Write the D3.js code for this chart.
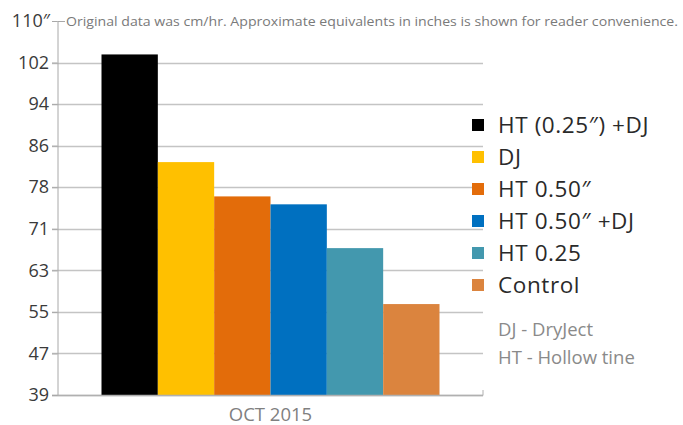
<!DOCTYPE html>
<html>
<head>
<meta charset="utf-8">
<script src="https://cdn.jsdelivr.net/npm/d3@7"></script>
<style>
  html, body { margin: 0; padding: 0; background: #fff; }
  svg { display: block; }
  text { font-family: "Open Sans", "Noto Sans", sans-serif; }
</style>
</head>
<body>
<svg id="chart" width="683" height="425"></svg>
<script>
// ---- Data ----
const categories = ["OCT 2015"];
const seriesNames = ["HT (0.25\u2033) +DJ", "DJ", "HT 0.50\u2033", "HT 0.50\u2033 +DJ", "HT 0.25", "Control"];
const seriesValues = [103.9, 83.5, 77.0, 75.5, 67.2, 56.6]; // inches/hr
const seriesColors = ["#000000", "#FFC000", "#E36C0A", "#0070C0", "#4398AE", "#DB843E"];
const yTicksCm = [100, 120, 140, 160, 180, 200, 220, 240, 260, 280];
const yTickLabels = ["39", "47", "55", "63", "71", "78", "86", "94", "102", "110\u2033"];
const noteText = "Original data was cm/hr. Approximate equivalents in inches is shown for reader convenience.";
const abbrevs = ["DJ - DryJect", "HT - Hollow tine"];

// ---- Layout ----
const svg = d3.select("#chart");
const yTicks = yTicksCm.map(c => c / 2.54);
const y = d3.scaleLinear().domain([yTicks[0], yTicks[yTicks.length - 1]]).range([395, 21]);
const xGroup = d3.scaleBand().domain(categories).range([101.5, 439.5]).padding(0);
const xSeries = d3.scaleBand().domain(seriesNames).range([0, xGroup.bandwidth()]).padding(0);

const gridLeft = 52, axisX = 57.5, gridRight = 483;

// gridlines (all but top)
svg.append("g").selectAll("line")
  .data(yTicks.slice(0, -1))
  .join("line")
  .attr("x1", gridLeft).attr("x2", gridRight)
  .attr("y1", d => Math.round(y(d)) + 0.5).attr("y2", d => Math.round(y(d)) + 0.5)
  .attr("stroke", "#c4c4c4").attr("stroke-width", 1.3);

// bars
categories.forEach(cat => {
  svg.append("g").selectAll("rect")
    .data(seriesNames.map((s, i) => ({ s, v: seriesValues[i], c: seriesColors[i] })))
    .join("rect")
    .attr("x", d => xGroup(cat) + xSeries(d.s))
    .attr("width", xSeries.bandwidth())
    .attr("y", d => y(d.v))
    .attr("height", d => y(yTicks[0]) - y(d.v))
    .attr("fill", d => d.c);
});

// baseline
svg.append("line")
  .attr("x1", gridLeft).attr("x2", gridRight)
  .attr("y1", Math.round(y(yTicks[0])) + 0.5).attr("y2", Math.round(y(yTicks[0])) + 0.5)
  .attr("stroke", "#b0b0b0").attr("stroke-width", 1.3);
svg.append("line")
  .attr("x1", gridRight).attr("x2", gridRight)
  .attr("y1", y(yTicks[0]) - 5).attr("y2", y(yTicks[0]) + 0.5)
  .attr("stroke", "#b0b0b0");

// y axis
const yAxis = d3.axisLeft(y)
  .tickValues(yTicks)
  .tickSize(axisX - gridLeft)
  .tickPadding(3)
  .tickFormat((d, i) => yTickLabels[i]);
const gAxis = svg.append("g").attr("transform", `translate(${axisX},0)`).call(yAxis);
gAxis.select(".domain").attr("stroke", "#a8a8a8").attr("d", `M0.5,${y(yTicks[yTicks.length-1])}V${y(yTicks[0])}`);
gAxis.selectAll(".tick line").attr("stroke", "#a8a8a8");
gAxis.selectAll(".tick text")
  .attr("font-size", 18)
  .attr("fill", "#3a3a3a")
  .style("font-family", "'Open Sans', sans-serif");
gAxis.selectAll(".tick").filter((d, i) => i === yTicks.length - 1).select("text").attr("x", -7.5);
// short dash leading into the note
svg.append("line")
  .attr("x1", axisX).attr("x2", 65)
  .attr("y1", Math.round(y(yTicks[yTicks.length - 1])) + 0.5).attr("y2", Math.round(y(yTicks[yTicks.length - 1])) + 0.5)
  .attr("stroke", "#a8a8a8");

// note text
svg.append("text")
  .attr("x", 66).attr("y", y(yTicks[yTicks.length - 1]) + 5)
  .attr("font-size", 13.5)
  .attr("fill", "#7a7a7a")
  .attr("textLength", 612)
  .attr("lengthAdjust", "spacingAndGlyphs")
  .text(noteText);

// x label
svg.append("g").selectAll("text")
  .data(categories)
  .join("text")
  .attr("x", d => xGroup(d) + xGroup.bandwidth() / 2)
  .attr("y", 421)
  .attr("text-anchor", "middle")
  .attr("font-size", 18.5)
  .attr("fill", "#808080")
  .text(d => d);

// legend
const legend = svg.append("g").attr("transform", "translate(472,125)");
const items = legend.selectAll("g")
  .data(seriesNames.map((s, i) => ({ s, c: seriesColors[i] })))
  .join("g")
  .attr("transform", (d, i) => `translate(0,${i * 32})`);
items.append("rect").attr("x", 0).attr("y", -6).attr("width", 12).attr("height", 12).attr("fill", d => d.c);
items.append("text")
  .attr("x", 26).attr("y", 0).attr("dy", "0.35em")
  .attr("font-size", 22.5)
  .attr("letter-spacing", 0.6)
  .attr("fill", "#2a2a2a")
  .text(d => d.s);

svg.append("g").selectAll("text")
  .data(abbrevs)
  .join("text")
  .attr("x", 498)
  .attr("y", (d, i) => 330 + i * 28)
  .attr("dy", "0.35em")
  .attr("font-size", 18.5)
  .attr("fill", "#8a8a8a")
  .text(d => d);
</script>
</body>
</html>
